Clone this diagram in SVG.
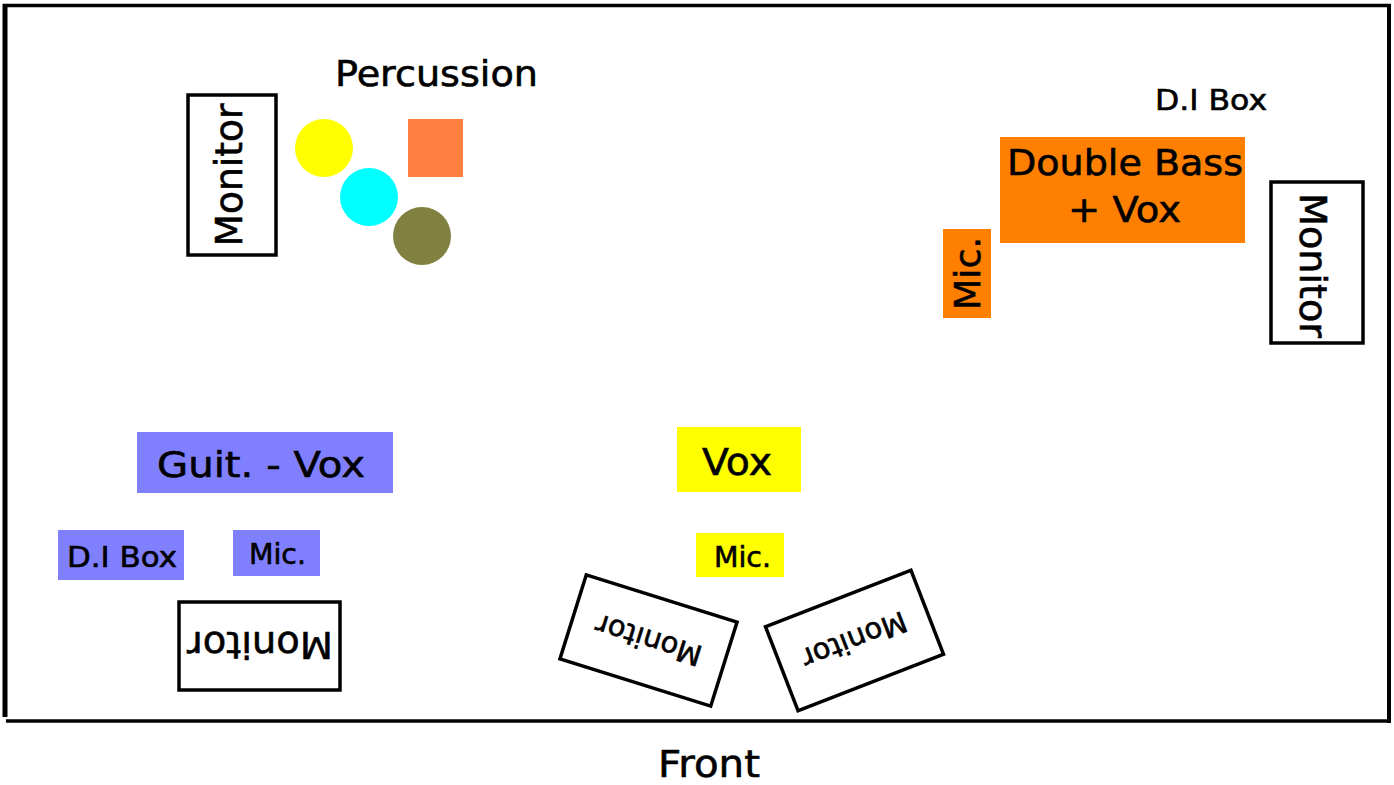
<svg xmlns="http://www.w3.org/2000/svg" width="1394" height="785" viewBox="0 0 1394 785">
<style>
.t{font-family:"DejaVu Sans",Verdana,sans-serif;fill:#000;stroke:#000;stroke-width:0.6;text-anchor:middle}
.mon{fill:#fff;stroke:#000;stroke-width:3.5}
.frame{stroke:#000}
</style>
<rect x="0" y="0" width="1394" height="785" fill="#fff"/>
<g id="stage-frame" class="frame">
<line x1="3" y1="5.5" x2="1391" y2="5.5" stroke-width="3.5"/>
<line x1="5" y1="4" x2="5" y2="717" stroke-width="5"/>
<line x1="1389" y1="4" x2="1389" y2="723" stroke-width="4"/>
<line x1="6" y1="721" x2="1391" y2="721" stroke-width="3.5"/>
</g>
<g id="connectors"/>
<g id="monitor-top-left">
<rect class="mon" x="188" y="95" width="88" height="160"/>
<text class="t" transform="translate(242,175) rotate(-90)" x="0" y="0" font-size="37" textLength="143" lengthAdjust="spacingAndGlyphs">Monitor</text>
</g>
<g id="percussion">
<text class="t" x="436.5" y="86" font-size="35" textLength="203" lengthAdjust="spacingAndGlyphs">Percussion</text>
<circle cx="324" cy="148" r="29" fill="#ffff00"/>
<circle cx="369" cy="197" r="29" fill="#00ffff"/>
<circle cx="422" cy="236" r="29" fill="#808040"/>
<rect x="408" y="119" width="55" height="58" fill="#ff7f40"/>
</g>
<g id="di-box-right">
<text class="t" x="1211" y="110" font-size="28" textLength="112" lengthAdjust="spacingAndGlyphs">D.I Box</text>
</g>
<g id="double-bass">
<rect x="1000" y="137" width="245" height="106" fill="#ff8000"/>
<text class="t" x="1125" y="175" font-size="35" textLength="236" lengthAdjust="spacingAndGlyphs">Double Bass</text>
<text class="t" x="1124.5" y="222" font-size="35" textLength="113" lengthAdjust="spacingAndGlyphs">+ Vox</text>
</g>
<g id="mic-bass">
<rect x="943" y="229" width="48" height="89" fill="#ff8000"/>
<text class="t" transform="translate(980,273.5) rotate(-90)" x="0" y="0" font-size="36" textLength="73" lengthAdjust="spacingAndGlyphs">Mic.</text>
</g>
<g id="monitor-right">
<rect class="mon" x="1271" y="182" width="92" height="161"/>
<text class="t" transform="translate(1300,265.5) rotate(90)" x="0" y="0" font-size="38" textLength="145" lengthAdjust="spacingAndGlyphs">Monitor</text>
</g>
<g id="guitar-vox">
<rect x="137" y="432" width="256" height="61" fill="#8080ff"/>
<text class="t" x="261" y="477" font-size="35" textLength="208" lengthAdjust="spacingAndGlyphs">Guit. - Vox</text>
</g>
<g id="di-box-left">
<rect x="58" y="530" width="126" height="50" fill="#8080ff"/>
<text class="t" x="122" y="567" font-size="28" textLength="110" lengthAdjust="spacingAndGlyphs">D.I Box</text>
</g>
<g id="mic-guitar">
<rect x="233" y="530" width="87" height="46" fill="#8080ff"/>
<text class="t" x="277.5" y="564" font-size="28" textLength="57" lengthAdjust="spacingAndGlyphs">Mic.</text>
</g>
<g id="monitor-bottom-left">
<rect class="mon" x="179" y="602" width="161" height="88"/>
<text class="t" transform="translate(260,632) rotate(180)" x="0" y="0" font-size="38" textLength="146" lengthAdjust="spacingAndGlyphs">Monitor</text>
</g>
<g id="vox">
<rect x="677" y="427" width="124" height="65" fill="#ffff00"/>
<text class="t" x="737" y="475" font-size="37" textLength="70" lengthAdjust="spacingAndGlyphs">Vox</text>
</g>
<g id="mic-vox">
<rect x="696" y="533" width="88" height="44" fill="#ffff00"/>
<text class="t" x="742.5" y="567" font-size="28" textLength="57" lengthAdjust="spacingAndGlyphs">Mic.</text>
</g>
<g id="monitor-front-left" transform="translate(648.5,640.5) rotate(17.4)">
<rect class="mon" x="-79" y="-44" width="158" height="88"/>
<text class="t" transform="rotate(180)" x="0" y="10.5" font-size="29" textLength="110" lengthAdjust="spacingAndGlyphs">Monitor</text>
</g>
<g id="monitor-front-right" transform="translate(854.5,640.5) rotate(-21.2)">
<rect class="mon" x="-78" y="-45" width="156" height="90"/>
<text class="t" transform="rotate(180)" x="0" y="10.5" font-size="29" textLength="110" lengthAdjust="spacingAndGlyphs">Monitor</text>
</g>
<g id="front-label">
<text class="t" x="709" y="777" font-size="38" textLength="102" lengthAdjust="spacingAndGlyphs">Front</text>
</g>
</svg>
